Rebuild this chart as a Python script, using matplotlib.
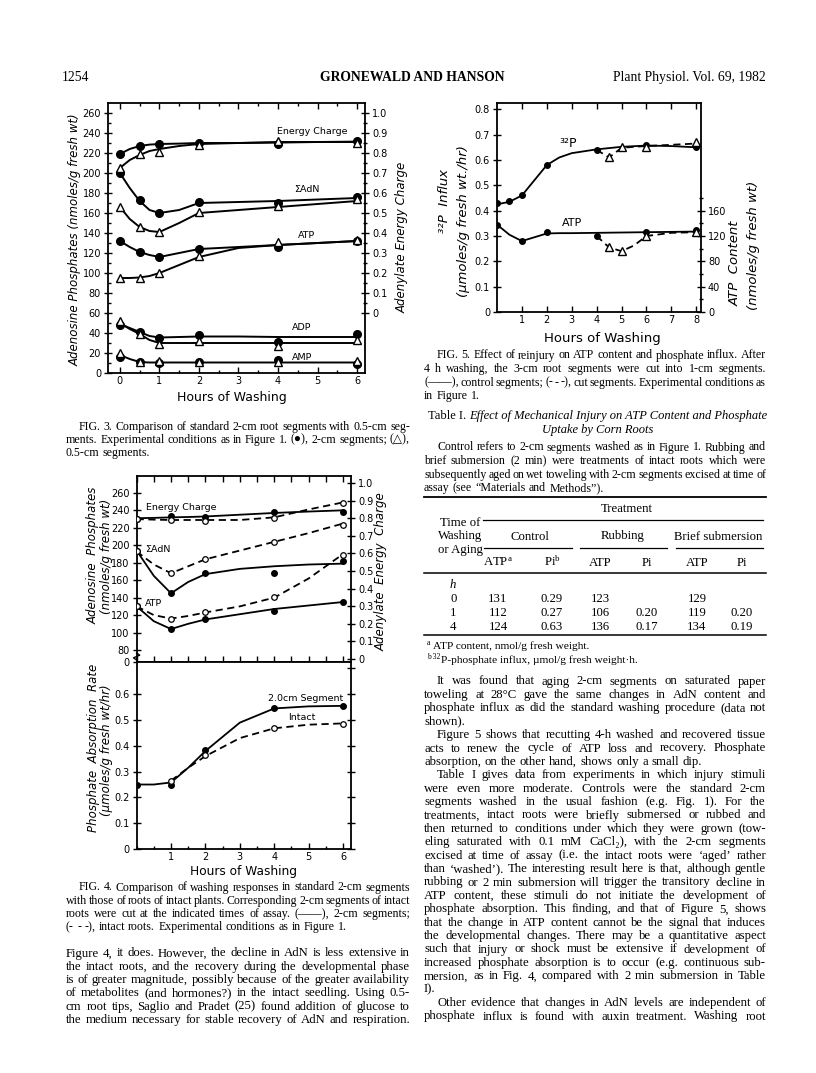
import numpy as np
import matplotlib
matplotlib.use('Agg')
import matplotlib.pyplot as plt
from matplotlib.lines import Line2D

plt.rcParams['font.family'] = ['DejaVu Sans']
plt.rcParams['mathtext.fontset'] = 'custom'
plt.rcParams['mathtext.rm'] = 'Liberation Serif'
plt.rcParams['mathtext.it'] = 'Liberation Serif:italic'

W, H = 816, 1073

# ---- Fig. 3 data (hours of washing) ----
f3_t = [0, 0.5, 1, 2, 4, 6]
f3_ec_2cm = [0.795, 0.835, 0.845, 0.85, 0.845, 0.86]
f3_ec_05 = [0.725, 0.795, 0.805, 0.84, 0.86, 0.85]
f3_adn_2cm = [200, 173, 160, 171, 170, 176]
f3_adn_05 = [166, 146, 141, 161, 167, 174]
f3_atp_2cm = [132, 121, 116, 124, 126, 132]
f3_atp_05 = [95, 95, 100, 117, 131, 133]
f3_adp_2cm = [48, 41, 35, 38, 31, 39]
f3_adp_05 = [52, 39, 29, 32, 27, 33]
f3_amp_2cm = [16, 11, 10, 11, 13, 9]
f3_amp_05 = [20, 11, 12, 11, 11, 12]
# hand drawn curves
f3_ft = [0, 0.25, 0.5, 0.75, 1, 1.5, 2, 3, 4, 5, 6]
f3_ec_2cm_fit = [0.795, 0.82, 0.835, 0.842, 0.845, 0.847, 0.85, 0.85, 0.852, 0.855, 0.857]
f3_ec_05_fit = [0.725, 0.765, 0.79, 0.81, 0.82, 0.835, 0.845, 0.85, 0.855, 0.855, 0.855]
f3_adn_2cm_fit = [200, 185, 172, 163, 160, 163, 170, 171, 172, 173.5, 175]
f3_adn_05_fit = [166, 154, 146, 142, 141, 150, 160, 163, 166, 169, 172]
f3_atp_2cm_fit = [132, 126, 121, 118, 116, 120, 124, 126, 128, 130, 132]
f3_atp_05_fit = [95, 95, 95.5, 97, 100, 108, 116, 125, 128, 130, 132]
f3_adp_2cm_fit = [49, 45, 41, 37, 35.5, 36, 36.5, 36.5, 36, 36, 36]
f3_adp_05_fit = [50, 44, 39, 33, 30, 30, 30, 30, 30, 30, 30]
f3_amp_fit = [18, 14, 11, 10.5, 10.5, 10.5, 10.5, 10.5, 10.5, 10.5, 10.5]

# ---- Fig. 4 data ----
f4_t = [0, 1, 2, 4, 6]
f4_ec_seg = [0.795, 0.81, 0.805, 0.835, 0.835]
f4_ec_int = [0.795, 0.79, 0.785, 0.80, 0.885]
f4_adn_seg = [194, 145, 168, 168, 182]
f4_adn_int = [193, 168, 184, 204, 223]
f4_atp_seg = [130, 104, 116, 125, 135]
f4_atp_int = [130, 116, 123, 141, 189]
f4_pa_seg = [0.25, 0.25, 0.385, 0.545, 0.555]
f4_pa_int_t = [1, 2, 4, 6]
f4_pa_int = [0.265, 0.365, 0.47, 0.485]
f4_ft = [0, 0.5, 1, 1.5, 2, 3, 4, 5, 6]
f4_ec_seg_fit = [0.80, 0.802, 0.805, 0.807, 0.81, 0.82, 0.83, 0.838, 0.845]
f4_ec_int_fit = [0.795, 0.792, 0.79, 0.79, 0.79, 0.79, 0.805, 0.85, 0.89]
f4_adn_seg_fit = [194, 165, 145, 158, 167, 173, 176, 178, 179]
f4_adn_int_fit = [193, 178, 168, 176, 184, 194, 204, 214, 225]
f4_atp_seg_fit = [130, 113, 104, 110, 115, 121, 127, 131, 135]
f4_atp_int_fit = [130, 120, 116, 119, 123, 130, 140, 162, 190]
f4_pa_seg_fit = [0.25, 0.25, 0.258, 0.315, 0.38, 0.49, 0.545, 0.553, 0.555]
f4_pa_int_ft = [1, 1.5, 2, 3, 4, 5, 6]
f4_pa_int_fit = [0.265, 0.315, 0.36, 0.43, 0.468, 0.482, 0.487]

# ---- Fig. 5 data ----
f5_t = [0, 0.5, 1, 2, 4, 6, 8]
f5_p_ctrl = [0.43, 0.44, 0.46, 0.58, 0.64, 0.66, 0.65]
f5_cut_t = [4.5, 5, 6, 8]
f5_p_cut = [0.61, 0.65, 0.65, 0.67]
f5_atp_t = [0, 1, 2, 4, 6, 8]
f5_atp_ctrl = [138, 112, 126, 120, 127, 130]
f5_atp_cut = [102, 96, 120, 126]
f5_ft = [0, 0.5, 1, 1.5, 2, 2.5, 3, 4, 5, 6, 7, 8]
f5_p_ctrl_fit = [0.425, 0.435, 0.46, 0.52, 0.58, 0.61, 0.627, 0.642, 0.652, 0.657, 0.655, 0.65]
f5_atp_ctrl_fit = [138, 122, 112, 118, 124, 124.5, 124.5, 125, 125.5, 126, 126.5, 127]
f5_cft = [4, 4.5, 5, 5.5, 6, 7, 8]
f5_p_cut_fit = [0.64, 0.61, 0.648, 0.652, 0.655, 0.66, 0.665]
f5_atp_cut_fit = [120, 102, 96, 105, 120, 125, 126]

# ---- Table I ----
tab_time = ['0', '1', '4']
tab_ctrl_atp = ['131', '112', '124']
tab_ctrl_pi = ['0.29', '0.27', '0.63']
tab_rub_atp = ['123', '106', '136']
tab_rub_pi = ['', '0.20', '0.17']
tab_sub_atp = ['129', '119', '134']
tab_sub_pi = ['', '0.20', '0.19']

fig = plt.figure(figsize=(W / 100, H / 100), dpi=100)
renderer = fig.canvas.get_renderer()
SERIF = ['Liberation Serif', 'DejaVu Serif']
BODY = 9.2
CAP = 8.6


def rect(x0, y0, x1, y1):
    return [x0 / W, 1 - y1 / H, (x1 - x0) / W, (y1 - y0) / H]


def ty(y):
    return 1 - y / H


def frame(ax, size=7):
    for s in ax.spines.values():
        s.set_linewidth(1.3)
    ax.tick_params(which='both', direction='in', top=True, right=False,
                   labelsize=size, pad=2, width=1)
    ax.tick_params(which='major', length=4.5)
    ax.tick_params(which='minor', length=2.5)


def right_axis(ax, lim, major, minor, labels, size=7):
    r = ax.twinx()
    r.set_ylim(*lim)
    r.set_yticks(major)
    r.set_yticklabels(labels)
    if minor is not None:
        r.set_yticks(minor, minor=True)
    r.tick_params(which='both', direction='inout', labelsize=size, pad=2, width=1)
    r.tick_params(which='major', length=6)
    r.tick_params(which='minor', length=3)
    for s in r.spines.values():
        s.set_visible(False)
    return r


def line(x0, x1, y, s, justify=True, size=BODY, **kw):
    # one line of type, words spread to fill the measure
    base = ty(y + 3.5)
    words = s.split()
    ts = [fig.text(0, base, w, ha='left', va='baseline', family=SERIF, size=size, **kw)
          for w in words]
    ws = [t.get_window_extent(renderer).width for t in ts]
    gap = (x1 - x0 - sum(ws)) / max(len(words) - 1, 1)
    space = 0.27 * size * 100 / 72
    gap = max(gap, 1.2) if justify else min(max(gap, 1.2), space)
    x = x0
    for t, w in zip(ts, ws):
        t.set_x(x / W)
        x += w + gap


def hline(x0, x1, y, lw=0.9):
    fig.add_artist(Line2D([x0 / W, x1 / W], [ty(y), ty(y)], color='black', lw=lw,
                          transform=fig.transFigure))


# ---- Page header ----
fig.text(62 / W, ty(81), '1254', family=SERIF, size=9.8, va='baseline')
fig.text(412 / W, ty(81), 'GRONEWALD AND HANSON', family=SERIF, size=9.8,
         weight='bold', ha='center', va='baseline')
fig.text(766 / W, ty(81), 'Plant Physiol. Vol. 69, 1982', family=SERIF, size=9.8,
         ha='right', va='baseline')

# ---- Fig. 3 ----
ax = fig.add_axes(rect(108, 103, 365, 373))
ax.set_xlim(-0.3, 6.2)
ax.set_ylim(0, 270)
ax.set_xticks(range(7))
ax.set_xticks(np.arange(0, 6.01, 0.5), minor=True)
ax.set_yticks(range(0, 261, 20))
ax.set_yticks(range(0, 261, 10), minor=True)
frame(ax)
ax.tick_params(axis='y', which='major', direction='inout', length=6)
axr = right_axis(ax, (-0.3, 1.05), np.arange(0, 1.001, 0.1), np.arange(0, 1.001, 0.05),
                 ['0'] + ['%.1f' % v for v in np.arange(0.1, 1.001, 0.1)])

filled = dict(marker='o', color='black', ms=5.5, ls='none', zorder=4)
opent = dict(marker='^', mfc='white', mec='black', mew=1.0, ms=6, ls='none', zorder=4)
for fit, a in [(f3_ec_2cm_fit, axr), (f3_ec_05_fit, axr), (f3_adn_2cm_fit, ax),
               (f3_adn_05_fit, ax), (f3_atp_2cm_fit, ax), (f3_atp_05_fit, ax),
               (f3_adp_2cm_fit, ax), (f3_adp_05_fit, ax), (f3_amp_fit, ax)]:
    a.plot(f3_ft, fit, color='black', lw=1.4)
axr.plot(f3_t, f3_ec_2cm, **filled)
axr.plot(f3_t, f3_ec_05, **opent)
for ys in [f3_adn_2cm, f3_atp_2cm, f3_adp_2cm, f3_amp_2cm]:
    ax.plot(f3_t, ys, **filled)
for ys in [f3_adn_05, f3_atp_05, f3_adp_05, f3_amp_05]:
    ax.plot(f3_t, ys, **opent)
for x, y, s in [(4.86, 242, 'Energy Charge'), (4.73, 183, 'ΣAdN'), (4.73, 138, 'ATP'),
                (4.6, 45, 'ADP'), (4.6, 15, 'AMP')]:
    ax.text(x, y, s, ha='center', va='center', size=6.8)
fig.text(232 / W, ty(398), 'Hours of Washing', ha='center', va='center', size=9)
fig.text(75 / W, ty(240), 'Adenosine Phosphates (nmoles/g fresh wt)', rotation=90,
         ha='center', va='center', size=8.5, style='italic')
fig.text(402 / W, ty(237), 'Adenylate Energy Charge', rotation=90,
         ha='center', va='center', size=8.5, style='italic')

cap3 = ['FIG. 3. Comparison of standard 2-cm root segments with 0.5-cm seg-',
        'ments. Experimental conditions as in Figure 1. (●), 2-cm segments; (△),',
        '0.5-cm segments.']
for i, s in enumerate(cap3):
    line(66 + (13 if i == 0 else 0), 410, 426 + i * 13.2, s, justify=(i < 2), size=CAP)

# ---- Fig. 4 upper ----
X4 = (0, 6.23)
ax = fig.add_axes(rect(136.6, 476, 351, 662))
ax.set_xlim(*X4)
ax.set_ylim(66.2, 279.5)
ax.set_xticks(np.arange(0, 6.01, 0.5))
ax.set_xticklabels([])
ax.set_yticks([66.2] + list(range(80, 261, 20)))
ax.set_yticklabels(['0'] + [str(v) for v in range(80, 261, 20)])
frame(ax)
ax.tick_params(axis='y', which='major', direction='inout', length=6)
ax.plot([0, -0.09, 0.09, 0], [68.5, 71, 74, 76.5], color='black', lw=1.0, clip_on=False)
axr = right_axis(ax, (-0.017, 1.04), np.arange(0, 1.001, 0.1), None,
                 ['0'] + ['%.1f' % v for v in np.arange(0.1, 1.001, 0.1)])

sm = dict(marker='o', color='black', ms=4, ls='none', zorder=4)
om = dict(marker='o', mfc='white', mec='black', mew=0.9, ms=4, ls='none', zorder=4)
axr.plot(f4_ft, f4_ec_seg_fit, color='black', lw=1.3)
axr.plot(f4_ft, f4_ec_int_fit, color='black', lw=1.3, ls=(0, (4, 2.5)))
axr.plot(f4_t, f4_ec_seg, **sm)
axr.plot(f4_t, f4_ec_int, **om)
for fit, pts, dash in [(f4_adn_seg_fit, f4_adn_seg, False), (f4_adn_int_fit, f4_adn_int, True),
                       (f4_atp_seg_fit, f4_atp_seg, False), (f4_atp_int_fit, f4_atp_int, True)]:
    ax.plot(f4_ft, fit, color='black', lw=1.3, ls=(0, (4, 2.5)) if dash else '-')
    ax.plot(f4_t, pts, **(om if dash else sm))
ax.text(0.27, 243, 'Energy Charge', ha='left', va='center', size=6.8)
ax.text(0.25, 195, 'ΣAdN', ha='left', va='center', size=6.8)
ax.text(0.25, 133, 'ATP', ha='left', va='center', size=6.8)
fig.text(93 / W, ty(555), 'Adenosine  Phosphates', rotation=90, ha='center', va='center',
         size=8.5, style='italic')
fig.text(106 / W, ty(556), '(nmoles/g fresh wt)', rotation=90, ha='center', va='center',
         size=8.5, style='italic')
fig.text(381 / W, ty(572), 'Adenylate  Energy  Charge', rotation=90, ha='center',
         va='center', size=8.5, style='italic')

# ---- Fig. 4 lower ----
ax = fig.add_axes(rect(136.6, 662, 351, 849))
ax.set_xlim(*X4)
ax.set_ylim(0, 0.725)
ax.set_xticks(range(1, 7))
ax.set_xticks(np.arange(0, 6.01, 0.5), minor=True)
ax.set_yticks(np.arange(0, 0.61, 0.1))
ax.set_yticklabels(['0'] + ['%.1f' % v for v in np.arange(0.1, 0.61, 0.1)])
frame(ax)
ax.tick_params(which='both', top=False)
ax.tick_params(axis='y', which='major', direction='inout', length=6)
right_axis(ax, (0, 0.725), np.arange(0, 0.71, 0.1), None, [''] * 8)
ax.plot(f4_ft, f4_pa_seg_fit, color='black', lw=1.3)
ax.plot(f4_pa_int_ft, f4_pa_int_fit, color='black', lw=1.3, ls=(0, (4, 2.5)))
ax.plot(f4_t, f4_pa_seg, **sm)
ax.plot(f4_pa_int_t, f4_pa_int, **om)
ax.text(4.9, 0.585, '2.0cm Segment', ha='center', va='center', size=6.8)
ax.text(4.8, 0.508, 'Intact', ha='center', va='center', size=6.8)
fig.text(93 / W, ty(748), 'Phosphate  Absorption  Rate', rotation=90, ha='center',
         va='center', size=8.5, style='italic')
fig.text(106 / W, ty(750), '(µmoles/g fresh wt/hr)', rotation=90, ha='center',
         va='center', size=8.5, style='italic')
fig.text(243 / W, ty(871), 'Hours of Washing', ha='center', va='center', size=8.7)

cap4 = ['FIG. 4. Comparison of washing responses in standard 2-cm segments',
        'with those of roots of intact plants. Corresponding 2-cm segments of intact',
        'roots were cut at the indicated times of assay. (——), 2-cm segments;',
        '(- - -), intact roots. Experimental conditions as in Figure 1.']
for i, s in enumerate(cap4):
    line(66 + (13 if i == 0 else 0), 410, 887 + i * 13.3, s, justify=(i < 3), size=CAP)

body_l = ['Figure 4, it does. However, the decline in AdN is less extensive in',
          'the intact roots, and the recovery during the developmental phase',
          'is of greater magnitude, possibly because of the greater availability',
          'of metabolites (and hormones?) in the intact seedling. Using 0.5-',
          'cm root tips, Saglio and Pradet (25) found addition of glucose to',
          'the medium necessary for stable recovery of AdN and respiration.']
for i, s in enumerate(body_l):
    line(66, 410, 953 + i * 13.3, s)

# ---- Fig. 5 ----
ax = fig.add_axes(rect(497, 103, 701, 312))
ax.set_xlim(0, 8.19)
ax.set_ylim(0, 0.825)
ax.set_xticks(range(1, 9))
ax.set_yticks(np.arange(0, 0.81, 0.1))
ax.set_yticklabels(['0'] + ['%.1f' % v for v in np.arange(0.1, 0.81, 0.1)])
frame(ax)
ax.tick_params(axis='y', which='major', direction='inout', length=6)
axr = right_axis(ax, (0, 330), range(0, 161, 40), range(0, 181, 20),
                 ['0', '40', '80', '120', '160'])
ax.plot(f5_ft, f5_p_ctrl_fit, color='black', lw=1.3)
ax.plot(f5_cft, f5_p_cut_fit, color='black', lw=1.3, ls=(0, (4, 2.5)))
ax.plot(f5_t, f5_p_ctrl, **sm)
ax.plot(f5_cut_t, f5_p_cut, **dict(opent, ms=5.5))
axr.plot(f5_ft, f5_atp_ctrl_fit, color='black', lw=1.3)
axr.plot(f5_cft, f5_atp_cut_fit, color='black', lw=1.3, ls=(0, (4, 2.5)))
axr.plot(f5_atp_t, f5_atp_ctrl, **sm)
axr.plot(f5_cut_t, f5_atp_cut, **dict(opent, ms=5.5))
ax.text(2.85, 0.665, '³²P', ha='center', va='center', size=9)
ax.text(3.0, 0.35, 'ATP', ha='center', va='center', size=8)
fig.text(602 / W, ty(339), 'Hours of Washing', ha='center', va='center', size=9.5)
fig.text(445 / W, ty(201), '³²P  Influx', rotation=90, ha='center', va='center',
         size=9.5, style='italic')
fig.text(463 / W, ty(221), '(µmoles/g fresh wt./hr)', rotation=90, ha='center',
         va='center', size=9.5, style='italic')
fig.text(735 / W, ty(263), 'ATP  Content', rotation=90, ha='center', va='center',
         size=9.5, style='italic')
fig.text(753 / W, ty(245), '(nmoles/g fresh wt)', rotation=90, ha='center', va='center',
         size=9.5, style='italic')

cap5 = ['FIG. 5. Effect of reinjury on ATP content and phosphate influx. After',
        '4 h washing, the 3-cm root segments were cut into 1-cm segments.',
        '(——), control segments; (- - -), cut segments. Experimental conditions as',
        'in Figure 1.']
for i, s in enumerate(cap5):
    line(424 + (13 if i == 0 else 0), 766, 355 + i * 13.6, s, justify=(i < 3), size=CAP)

# ---- Table I ----
t1 = fig.text(0, ty(418.5), 'Table I. ', family=SERIF, size=9.0, va='baseline')
t2 = fig.text(0, ty(418.5), 'Effect of Mechanical Injury on ATP Content and Phosphate',
              family=SERIF, size=9.0, style='italic', va='baseline')
w1 = t1.get_window_extent(renderer).width
w2 = t2.get_window_extent(renderer).width
xs = 598 - (w1 + w2) / 2
t1.set_x(xs / W)
t2.set_x((xs + w1) / W)
fig.text(598 / W, ty(433.5), 'Uptake by Corn Roots', family=SERIF, size=9.0,
         style='italic', ha='center', va='baseline')
desc = ['Control refers to 2-cm segments washed as in Figure 1. Rubbing and',
        'brief submersion (2 min) were treatments of intact roots which were',
        'subsequently aged on wet toweling with 2-cm segments excised at time of',
        'assay (see “Materials and Methods”).']
for i, s in enumerate(desc):
    line(424 + (13 if i == 0 else 0), 766, 447 + i * 13.6, s, justify=(i < 3), size=CAP)

hline(424, 766, 497, lw=1.3)
hline(483, 763, 520)
for a, b in [(484, 572), (580, 667), (676, 763)]:
    hline(a, b, 548)
hline(424, 766, 573, lw=1.1)
hline(424, 766, 635, lw=1.1)


def cell(x, y, s, ha='center', **kw):
    fig.text(x / W, ty(y + 3.5), s, family=SERIF, size=9.2, ha=ha, va='baseline', **kw)


cell(627, 508, 'Treatment')
cell(460, 522, 'Time of')
cell(460, 536, 'Washing')
cell(460, 549, 'or Aging')
cell(530, 536, 'Control')
cell(623, 536, 'Rubbing')
cell(718, 536, 'Brief submersion')
col_x = [498, 552, 600, 647, 697, 742]
for x, s in zip(col_x, [r'ATP$^{\rm a}$', r'Pi$^{\rm b}$', 'ATP', 'Pi', 'ATP', 'Pi']):
    cell(x, 563, s)
cell(450, 584, 'h', ha='left', style='italic')
cols = [tab_ctrl_atp, tab_ctrl_pi, tab_rub_atp, tab_rub_pi, tab_sub_atp, tab_sub_pi]
for r, tm in enumerate(tab_time):
    y = 599 + r * 14
    cell(450, y, tm, ha='left')
    for x, c in zip(col_x, cols):
        cell(x, y, c[r])

# footnotes, marks set as small raised letters
fig.text(427 / W, ty(645), 'a', family=SERIF, size=5.5, va='baseline')
fig.text(433 / W, ty(649), 'ATP content, nmol/g fresh weight.', family=SERIF,
         size=8.2, va='baseline')
fig.text(427 / W, ty(659), 'b 32', family=SERIF, size=5.5, va='baseline')
fig.text(441 / W, ty(663), 'P-phosphate influx, µmol/g fresh weight·h.',
         family=SERIF, size=8.2, va='baseline')

body_r = ['It was found that aging 2-cm segments on saturated paper',
          'toweling at 28°C gave the same changes in AdN content and',
          'phosphate influx as did the standard washing procedure (data not',
          'shown).',
          'Figure 5 shows that recutting 4-h washed and recovered tissue',
          'acts to renew the cycle of ATP loss and recovery. Phosphate',
          'absorption, on the other hand, shows only a small dip.',
          'Table I gives data from experiments in which injury stimuli',
          'were even more moderate. Controls were the standard 2-cm',
          'segments washed in the usual fashion (e.g. Fig. 1). For the',
          'treatments, intact roots were briefly submersed or rubbed and',
          'then returned to conditions under which they were grown (tow-',
          'eling saturated with 0.1 mM CaCl₂), with the 2-cm segments',
          'excised at time of assay (i.e. the intact roots were ‘aged’ rather',
          'than ‘washed’). The interesting result here is that, although gentle',
          'rubbing or 2 min submersion will trigger the transitory decline in',
          'ATP content, these stimuli do not initiate the development of',
          'phosphate absorption. This finding, and that of Figure 5, shows',
          'that the change in ATP content cannot be the signal that induces',
          'the developmental changes. There may be a quantitative aspect',
          'such that injury or shock must be extensive if development of',
          'increased phosphate absorption is to occur (e.g. continuous sub-',
          'mersion, as in Fig. 4, compared with 2 min submersion in Table',
          'I).',
          'Other evidence that changes in AdN levels are independent of',
          'phosphate influx is found with auxin treatment. Washing root']
starts = {0, 4, 7, 24}
stops = {3, 6, 23}
for i, s in enumerate(body_r):
    xi = 437 if i in starts else 424
    line(xi, 766, 681 + i * 13.4, s, justify=(i not in stops))

fig.savefig('out.png', dpi=100)
